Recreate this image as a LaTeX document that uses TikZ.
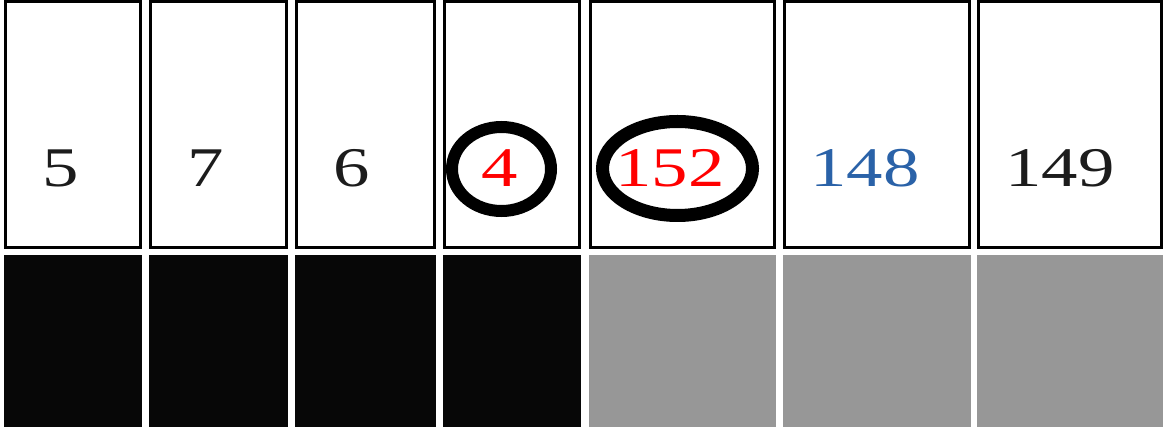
\documentclass[tikz,border=0pt]{standalone}
\usepackage{fontspec}
\setmainfont{Liberation Serif}
\usetikzlibrary{shapes.geometric}
\definecolor{darkfill}{HTML}{070707}
\definecolor{grayfill}{HTML}{979797}
\definecolor{numblue}{HTML}{2A62A8}
\definecolor{numdark}{HTML}{1C1C1C}
\definecolor{numred}{HTML}{FF0000}
\tikzset{
  cardbox/.style={draw=black,line width=3pt,fill=white},
  darkbar/.style={fill=darkfill},
  graybar/.style={fill=grayfill},
  num/.style={anchor=base,inner sep=0pt,font=\fontsize{56}{60}\selectfont},
  ring/.style={draw=black,shape=ellipse,inner sep=0pt}
}
\newcommand{\wnum}[1]{\scalebox{1.3}[1]{#1}}
\begin{document}
\begin{tikzpicture}[x=1pt,y=-1pt]
\useasboundingbox (0,0) rectangle (1164,427);
% top boxes
\draw[cardbox] (5.5,1.5) rectangle (140.5,247.5);
\draw[cardbox] (150.5,1.5) rectangle (286.5,247.5);
\draw[cardbox] (296.5,1.5) rectangle (434.5,247.5);
\draw[cardbox] (444.5,1.5) rectangle (579.5,247.5);
\draw[cardbox] (590.5,1.5) rectangle (774.5,247.5);
\draw[cardbox] (784.5,1.5) rectangle (969.5,247.5);
\draw[cardbox] (978.5,1.5) rectangle (1161.5,247.5);
% bottom bars
\fill[darkbar] (4,255) rectangle (142,427);
\fill[darkbar] (149,255) rectangle (288,427);
\fill[darkbar] (295,255) rectangle (436,427);
\fill[darkbar] (443,255) rectangle (581,427);
\fill[graybar] (589,255) rectangle (776,427);
\fill[graybar] (783,255) rectangle (971,427);
\fill[graybar] (977,255) rectangle (1163,427);
% numbers
\node[num,text=numdark] (n1) at (61,187) {\wnum{5}};
\node[num,text=numdark] (n2) at (206,187) {\wnum{7}};
\node[num,text=numdark] (n3) at (352,187) {\wnum{6}};
\node[num,text=numred] (n4) at (500,187) {\wnum{4}};
\node[num,text=numred] (n5) at (670,187) {\wnum{152}};
\node[num,text=numblue] (n6) at (865,187) {\wnum{148}};
\node[num,text=numdark] (n7) at (1060,187) {\wnum{149}};
% rings
\node[ring,line width=12pt,minimum width=99pt,minimum height=84pt] (r4) at (501.5,169) {};
\node[ring,line width=13pt,minimum width=150pt,minimum height=94pt] (r5) at (677.5,168.5) {};
\end{tikzpicture}
\end{document}
